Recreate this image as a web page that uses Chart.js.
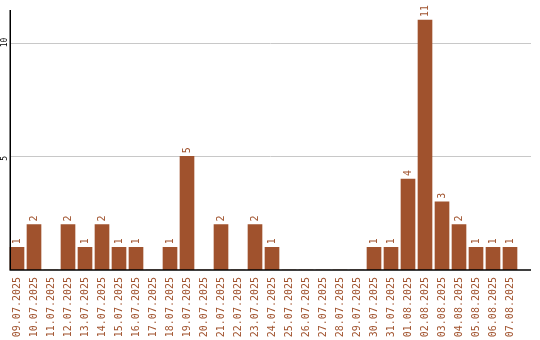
<!DOCTYPE html>
<html>
<head>
<meta charset="utf-8">
<script src="https://cdn.jsdelivr.net/npm/chart.js@4.4.0/dist/chart.umd.min.js"></script>
<style>
    body { margin: 0; background: #fff; }
    canvas { display: block; }
</style>
</head>
<body>
<canvas id="myChart" width="540" height="340"></canvas>
<script>
var labels = [
    '09.07.2025', '10.07.2025', '11.07.2025', '12.07.2025', '13.07.2025', '14.07.2025',
    '15.07.2025', '16.07.2025', '17.07.2025', '18.07.2025', '19.07.2025', '20.07.2025',
    '21.07.2025', '22.07.2025', '23.07.2025', '24.07.2025', '25.07.2025', '26.07.2025',
    '27.07.2025', '28.07.2025', '29.07.2025', '30.07.2025', '31.07.2025', '01.08.2025',
    '02.08.2025', '03.08.2025', '04.08.2025', '05.08.2025', '06.08.2025', '07.08.2025'
];
var cantidad = [1, 2, 0, 2, 1, 2, 1, 1, 0, 1, 5, 0, 2, 0, 2, 1, 0, 0, 0, 0, 0, 1, 1, 4, 11, 3, 2, 1, 1, 1];
var yTicks = [5, 10];
var yMax = 11.44;

var colorBarra = '#a0522d';
var fuenteMono = '"DejaVu Sans Mono", monospace';

// lineas de la grilla, ejes y textos que Chart.js no pone como queremos
var dibujoExtra = {
    id: 'dibujoExtra',
    beforeDatasetsDraw: function(chart) {
        var ctx = chart.ctx;
        var y = chart.scales.y;
        ctx.save();
        ctx.strokeStyle = '#c8c8c8';
        ctx.lineWidth = 1;
        for (var i = 0; i < yTicks.length; i++) {
            var py = Math.round(y.getPixelForValue(yTicks[i])) + 0.5;
            ctx.beginPath();
            ctx.moveTo(10, py);
            ctx.lineTo(531, py);
            ctx.stroke();
        }
        ctx.restore();
    },
    afterDatasetsDraw: function(chart) {
        var ctx = chart.ctx;
        var y = chart.scales.y;
        var cero = y.getPixelForValue(0);
        var tope = y.getPixelForValue(yMax);

        ctx.save();
        // ejes
        ctx.strokeStyle = '#000';
        ctx.lineWidth = 1.5;
        ctx.beginPath();
        ctx.moveTo(10.25, tope);
        ctx.lineTo(10.25, cero);
        ctx.lineTo(531, cero);
        ctx.stroke();

        // etiquetas del eje y
        ctx.fillStyle = '#000';
        ctx.font = '8px ' + fuenteMono;
        ctx.textAlign = 'left';
        ctx.textBaseline = 'middle';
        for (var i = 0; i < yTicks.length; i++) {
            var py = y.getPixelForValue(yTicks[i]);
            ctx.save();
            ctx.translate(4.5, py + 4.5);
            ctx.rotate(-Math.PI / 2);
            ctx.fillText(String(yTicks[i]), 0, 0);
            ctx.restore();
        }

        // valores sobre las barras
        var meta = chart.getDatasetMeta(0);
        ctx.fillStyle = colorBarra;
        ctx.font = '10px ' + fuenteMono;
        for (var j = 0; j < meta.data.length; j++) {
            if (!cantidad[j]) continue;
            var barra = meta.data[j];
            ctx.save();
            ctx.translate(barra.x, barra.y - 3);
            ctx.rotate(-Math.PI / 2);
            ctx.textAlign = 'left';
            ctx.textBaseline = 'middle';
            ctx.fillText(String(cantidad[j]), 0, 0.5);
            ctx.restore();
        }
        ctx.restore();
    }
};

const ctx = document.getElementById('myChart').getContext('2d');
const myChart = new Chart(ctx, {
    type: 'bar',
    data: {
        labels: labels,
        datasets: [{
            label: '',
            data: cantidad,
            backgroundColor: colorBarra,
            borderWidth: 0,
            barThickness: 14
        }]
    },
    options: {
        responsive: false,
        animation: false,
        layout: {
            padding: { top: 10, left: 8.5, right: 21.5, bottom: 0 }
        },
        plugins: {
            legend: { display: false },
            tooltip: { enabled: false }
        },
        scales: {
            x: {
                grid: { display: false, drawTicks: false },
                border: { display: false },
                afterFit: function(scale) { scale.height = 70; },
                ticks: {
                    color: colorBarra,
                    font: { family: fuenteMono, size: 10 },
                    minRotation: 90,
                    maxRotation: 90,
                    autoSkip: false,
                    padding: 7
                }
            },
            y: {
                display: false,
                min: 0,
                max: yMax
            }
        }
    },
    plugins: [dibujoExtra]
});
</script>
</body>
</html>
